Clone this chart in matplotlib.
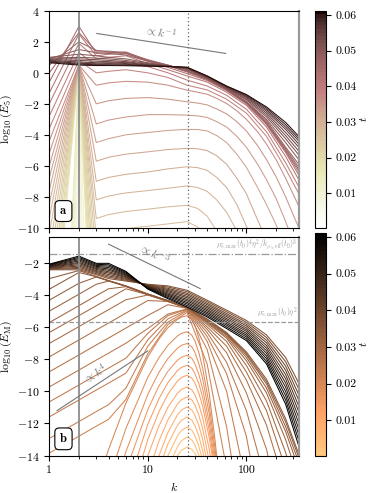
import matplotlib
matplotlib.use("Agg")
from matplotlib import pyplot as plt
from matplotlib import colors, cm, ticker

plt.rcParams["font.family"] = "serif"
plt.rcParams["font.serif"] = ["cmr10"]
plt.rcParams["mathtext.fontset"] = "cm"
plt.rcParams["axes.formatter.use_mathtext"] = True
plt.rcParams["font.size"] = 8.5

# ---------------- panel a : log10(E_5) ----------------
k_e5 = [1, 2, 3, 4, 6, 10, 16, 25, 40, 63, 100, 160, 250, 340]

# earliest spectra: only the spike at k = 2 is visible
t_e5_early = [0.001, 0.003, 0.005, 0.007, 0.009, 0.011, 0.013, 0.015]
e5_early = [
    [-400, 0.5, -400],
    [-260, 0.5, -260],
    [-170, 0.5, -160],
    [-115, 0.5, -95],
    [-80, 0.5, -58],
    [-62, 0.5, -36],
    [-50, 0.5, -24],
    [-43, 0.5, -17],
]

k_e5_mid = [1, 2, 3, 4, 6, 10, 16, 25, 32, 40, 50, 63, 80, 100, 130, 160, 200, 250, 340]
t_e5_mid = [0.017, 0.0183, 0.0196, 0.0209, 0.0222, 0.0235, 0.0248, 0.0261,
            0.0274, 0.0287, 0.03, 0.0313, 0.0326, 0.0339, 0.0352, 0.0365]
e5_mid = [
    [-21.0, 0.5, -24.0, -23.8, -23.6, -23.4, -23.3, -23.2, -23.5, -24.0, -25.0, -26.0, -28.0, -30.0, -33.0, -35.0, -38.0, -40.0, -45.0],
    [-19.5, 0.5, -21.5, -21.3, -21.1, -20.9, -20.8, -20.7, -21.0, -21.5, -22.5, -23.5, -25.0, -27.0, -30.0, -32.0, -35.0, -37.0, -42.0],
    [-18.0, 0.5, -19.2, -19.0, -18.8, -18.6, -18.5, -18.4, -18.7, -19.2, -20.0, -21.0, -22.7, -24.5, -27.0, -29.0, -32.0, -34.0, -39.0],
    [-16.6, 0.5, -17.0, -16.8, -16.6, -16.4, -16.3, -16.2, -16.5, -16.9, -17.7, -18.6, -20.2, -22.0, -24.5, -26.5, -29.0, -31.0, -36.0],
    [-15.2, 0.5, -15.0, -14.8, -14.6, -14.4, -14.3, -14.2, -14.4, -14.8, -15.5, -16.4, -17.8, -19.5, -22.0, -24.0, -26.5, -29.0, -33.0],
    [-13.9, 0.5, -13.3, -13.1, -12.9, -12.7, -12.6, -12.5, -12.7, -13.0, -13.7, -14.5, -15.8, -17.5, -20.0, -22.0, -24.5, -26.5, -30.0],
    [-12.7, 0.5, -11.8, -11.6, -11.4, -11.2, -11.05, -10.95, -11.1, -11.4, -12.0, -12.8, -14.0, -15.6, -18.0, -19.8, -22.0, -24.0, -28.0],
    [-11.5, 0.5, -10.5, -10.25, -10.05, -9.9, -9.75, -9.6, -9.95, -10.5, -11.2, -12.0, -13.0, -14.3, -16.2, -18.0, -20.0, -22.0, -26.0],
    [-10.4, 0.5, -9.4, -9.15, -8.95, -8.8, -8.65, -8.55, -8.75, -9.25, -10.2, -11.3, -12.5, -13.5, -15.3, -16.5, -18.5, -20.5, -24.0],
    [-9.4, 0.5, -8.2, -7.95, -7.75, -7.6, -7.45, -7.3, -7.4, -7.65, -8.2, -9.0, -10.2, -11.5, -13.2, -14.5, -16.5, -18.5, -22.0],
    [-8.5, 0.5, -7.0, -6.75, -6.55, -6.4, -6.2, -6.06, -6.12, -6.3, -6.75, -7.4, -8.5, -9.9, -11.4, -12.8, -14.5, -16.5, -20.0],
    [-7.6, 0.5, -5.7, -5.45, -5.25, -5.1, -4.95, -4.88, -4.9, -5.02, -5.35, -5.9, -6.8, -7.8, -9.5, -10.8, -12.4, -14.0, -17.0],
    [-6.8, 0.5, -4.5, -4.25, -4.0, -3.85, -3.72, -3.65, -3.66, -3.75, -4.05, -4.5, -5.25, -6.1, -7.4, -8.5, -9.8, -11.4, -14.0],
    [-6.0, 0.5, -3.3, -3.05, -2.85, -2.7, -2.7, -2.73, -2.78, -2.88, -3.15, -3.5, -4.1, -4.8, -5.9, -6.9, -8.1, -9.6, -11.8],
    [-5.2, 0.5, -2.0, -1.8, -1.65, -1.6, -1.7, -1.87, -1.95, -2.07, -2.33, -2.65, -3.15, -3.75, -4.7, -5.6, -6.7, -8.0, -10.0],
    [-4.4, 0.5, -0.8, -0.65, -0.55, -0.6, -0.8, -1.12, -1.25, -1.38, -1.65, -1.98, -2.45, -3.0, -3.8, -4.6, -5.6, -6.8, -8.6],
]

t_e5_peak = [0.038, 0.0395, 0.041, 0.0425, 0.044, 0.0455, 0.047, 0.0485]
e5_peak = [
    [-3.6, 0.8, 0.0, 0.1, 0.2, 0.0, -0.3, -0.8, -1.1, -1.7, -2.6, -4.1, -6.2, -7.8],
    [-2.8, 1.3, 0.5, 0.6, 0.7, 0.4, 0.0, -0.47, -0.85, -1.45, -2.35, -3.8, -5.8, -7.35],
    [-2.0, 1.9, 0.9, 1.0, 1.1, 0.6, 0.2, -0.2, -0.6, -1.25, -2.1, -3.5, -5.4, -6.9],
    [-1.3, 2.5, 1.1, 1.2, 1.25, 0.75, 0.35, -0.05, -0.5, -1.15, -2.0, -3.35, -5.15, -6.6],
    [-0.6, 3.0, 1.25, 1.3, 1.35, 0.8, 0.45, 0.05, -0.45, -1.12, -1.97, -3.3, -5.05, -6.4],
    [0.0, 2.6, 1.4, 1.4, 1.3, 0.85, 0.5, 0.1, -0.42, -1.1, -1.94, -3.25, -5.0, -6.25],
    [0.5, 2.0, 1.45, 1.35, 1.25, 0.8, 0.5, 0.12, -0.4, -1.08, -1.92, -3.2, -4.9, -6.1],
    [0.9, 1.5, 1.3, 1.25, 1.15, 0.75, 0.45, 0.13, -0.38, -1.06, -1.9, -3.1, -4.8, -5.9],
]

t_e5_late = [0.05, 0.0515, 0.053, 0.0545, 0.056, 0.0575, 0.059, 0.0605]
e5_late = [
    [1.0, 1.2, 1.1, 1.0, 0.9, 0.65, 0.45, 0.2, -0.35, -1.05, -1.85, -3.0, -4.5, -5.6],
    [0.95, 1.0, 0.95, 0.9, 0.8, 0.6, 0.45, 0.25, -0.32, -1.0, -1.75, -2.85, -4.25, -5.3],
    [0.9, 0.9, 0.85, 0.8, 0.72, 0.56, 0.45, 0.28, -0.3, -0.97, -1.68, -2.72, -4.05, -5.05],
    [0.85, 0.8, 0.75, 0.72, 0.66, 0.52, 0.44, 0.3, -0.27, -0.94, -1.6, -2.6, -3.85, -4.8],
    [0.8, 0.7, 0.65, 0.65, 0.6, 0.5, 0.43, 0.32, -0.25, -0.91, -1.54, -2.48, -3.65, -4.6],
    [0.75, 0.62, 0.58, 0.58, 0.55, 0.47, 0.42, 0.34, -0.23, -0.89, -1.48, -2.38, -3.5, -4.4],
    [0.7, 0.56, 0.52, 0.52, 0.5, 0.45, 0.41, 0.35, -0.21, -0.87, -1.43, -2.28, -3.35, -4.25],
    [0.65, 0.5, 0.47, 0.47, 0.46, 0.43, 0.4, 0.36, -0.2, -0.85, -1.4, -2.2, -3.2, -4.1],
]

# ---------------- panel b : log10(E_M) ----------------
k_em_peak = [3, 4, 6, 10, 13, 16, 20, 22, 25, 28, 30, 33, 36, 42, 48, 52, 56]
t_em_peak = [0.002, 0.0035, 0.005, 0.0065, 0.008, 0.0095, 0.011,
             0.0125, 0.014, 0.0155, 0.017, 0.0185, 0.02]
em_peak = [
    [-30, -28, -25, -20, -16.8, -15.2, -14.0, -13.67, -13.46, -13.61, -13.85, -14.37, -15.0, -16.6, -20, -24, -28],
    [-32, -29, -25, -19.4, -16.56, -14.79, -13.44, -13.07, -12.84, -13.03, -13.33, -13.99, -14.82, -16.8, -20, -24, -28],
    [-31, -28, -24, -18.3, -15.62, -14.0, -12.77, -12.43, -12.22, -12.42, -12.74, -13.43, -14.3, -16.4, -18.9, -22, -26],
    [-30, -27, -23, -17.27, -14.8, -13.27, -12.11, -11.8, -11.6, -11.8, -12.12, -12.81, -13.67, -15.8, -18.25, -21, -25],
    [-29, -26, -22.4, -16.34, -14.0, -12.55, -11.46, -11.16, -10.97, -11.17, -11.48, -12.15, -13.0, -15.1, -17.5, -19.2, -23],
    [-28, -25, -20.65, -15.19, -13.08, -11.78, -10.79, -10.52, -10.35, -10.54, -10.84, -11.5, -12.32, -14.35, -16.7, -18.3, -22],
    [-27, -23.6, -18.8, -14.0, -12.14, -10.99, -10.12, -9.88, -9.73, -9.92, -10.21, -10.84, -11.64, -13.61, -15.9, -17.5, -21],
    [-25, -22, -17.5, -13.0, -11.26, -10.18, -9.36, -9.14, -9.0, -9.19, -9.48, -10.12, -10.92, -12.89, -15.16, -16.8, -20],
    [-24, -20.4, -16.2, -12.05, -10.45, -9.46, -8.71, -8.51, -8.38, -8.57, -8.88, -9.54, -10.38, -12.43, -14.8, -16.5, -20],
    [-21.8, -18.7, -14.92, -11.13, -9.66, -8.75, -8.07, -7.88, -7.76, -7.96, -8.28, -8.97, -9.84, -11.96, -14.42, -16.2, -19.5],
    [-20.1, -17.3, -13.74, -10.19, -8.81, -7.96, -7.32, -7.14, -7.03, -7.24, -7.57, -8.3, -9.2, -11.43, -14.0, -15.8, -19],
    [-18.1, -15.5, -12.3, -9.13, -7.9, -7.14, -6.56, -6.4, -6.3, -6.52, -6.86, -7.61, -8.56, -10.87, -13.53, -15.4, -18.5],
    [-15.9, -13.61, -10.73, -7.87, -6.74, -6.05, -5.53, -5.39, -5.3, -5.53, -5.9, -6.7, -7.7, -10.16, -13.0, -15.0, -18],
]

k_em = [1, 2, 3, 4, 6, 10, 16, 25, 40, 63, 100, 160, 250, 340]
t_em_mid = [0.0215, 0.0225, 0.0235, 0.0245, 0.0255, 0.0265, 0.0275,
            0.0285, 0.0295, 0.0305, 0.0315, 0.0325, 0.0335, 0.0345]
em_mid = [
    [-13.84, -12.79, -12.17, -11.74, -10.5, -7.67, -5.85, -5.1, -8.3, -14.8, -25, -35, -45, -55],
    [-12.93, -11.88, -11.26, -10.83, -9.8, -7.2, -5.7, -5.0, -7.4, -12.2, -20, -30, -40, -50],
    [-11.59, -10.54, -9.92, -9.49, -8.87, -6.8, -5.5, -4.95, -6.9, -10.0, -15.8, -25, -35, -45],
    [-10.66, -9.61, -8.99, -8.56, -7.94, -6.4, -5.3, -4.9, -6.6, -8.9, -12.8, -19.5, -28, -36],
    [-9.73, -8.68, -8.06, -7.63, -7.01, -6.1, -5.2, -4.88, -6.35, -8.2, -11.2, -15.8, -23, -30],
    [-8.79, -7.74, -7.12, -6.69, -6.07, -5.29, -4.62, -4.85, -6.15, -7.6, -10.1, -13.6, -19, -24],
    [-7.86, -6.81, -6.19, -5.76, -5.14, -4.36, -4.42, -4.84, -6.0, -7.2, -9.3, -12.1, -16.0, -20],
    [-7.03, -5.98, -5.36, -4.93, -4.31, -4.02, -4.42, -4.83, -5.85, -6.9, -8.8, -11.2, -14.8, -18],
    [-6.35, -5.3, -4.68, -4.25, -3.63, -4.0, -4.41, -4.82, -5.75, -6.7, -8.4, -10.6, -13.8, -16.5],
    [-5.73, -4.68, -4.06, -3.63, -3.5, -3.99, -4.4, -4.82, -5.7, -6.6, -8.1, -10.1, -13.0, -15.5],
    [-5.02, -3.97, -3.35, -3.15, -3.48, -3.98, -4.39, -4.81, -5.65, -6.5, -7.9, -9.8, -12.5, -14.8],
    [-4.34, -3.29, -2.9, -3.14, -3.47, -3.97, -4.38, -4.8, -5.6, -6.45, -7.75, -9.55, -12.2, -14.4],
    [-3.66, -2.62, -2.88, -3.13, -3.46, -3.96, -4.37, -4.8, -5.55, -6.4, -7.65, -9.4, -11.9, -14.1],
    [-3.0, -2.5, -2.86, -3.12, -3.45, -3.95, -4.36, -4.79, -5.5, -6.35, -7.55, -9.25, -11.7, -13.9],
]

t_em_late = [0.036, 0.0383, 0.0405, 0.0428, 0.045, 0.0473,
             0.0495, 0.0518, 0.054, 0.0563, 0.0585, 0.061]
em_late = [
    [-2.45, -2.45, -2.75, -3.0, -3.15, -3.35, -3.45, -3.72, -4.34, -4.96, -5.6, -6.5, -7.9, -9.5],
    [-2.42, -2.37, -2.69, -2.91, -3.10, -3.38, -3.52, -3.81, -4.43, -5.06, -5.71, -6.66, -8.16, -9.85],
    [-2.39, -2.30, -2.62, -2.83, -3.04, -3.40, -3.60, -3.91, -4.53, -5.17, -5.83, -6.83, -8.43, -10.21],
    [-2.35, -2.22, -2.56, -2.74, -2.99, -3.43, -3.67, -4.0, -4.62, -5.27, -5.94, -6.99, -8.69, -10.56],
    [-2.32, -2.14, -2.50, -2.65, -2.93, -3.46, -3.74, -4.1, -4.72, -5.37, -6.06, -7.16, -8.96, -10.92],
    [-2.29, -2.06, -2.43, -2.57, -2.88, -3.49, -3.81, -4.19, -4.81, -5.48, -6.17, -7.32, -9.22, -11.27],
    [-2.26, -1.99, -2.37, -2.48, -2.82, -3.51, -3.89, -4.29, -4.91, -5.58, -6.28, -7.48, -9.48, -11.63],
    [-2.23, -1.91, -2.30, -2.40, -2.77, -3.54, -3.96, -4.38, -5.0, -5.69, -6.4, -7.64, -9.74, -11.98],
    [-2.20, -1.83, -2.24, -2.31, -2.71, -3.57, -4.03, -4.48, -5.10, -5.79, -6.51, -7.81, -10.01, -12.34],
    [-2.16, -1.75, -2.18, -2.22, -2.66, -3.60, -4.10, -4.57, -5.19, -5.89, -6.62, -7.97, -10.27, -12.69],
    [-2.13, -1.68, -2.11, -2.14, -2.60, -3.62, -4.18, -4.67, -5.29, -6.0, -6.74, -8.14, -10.54, -13.05],
    [-2.10, -1.60, -2.05, -2.05, -2.55, -3.65, -4.25, -4.76, -5.38, -6.10, -6.85, -8.30, -10.80, -13.40],
]

# reference lines
k_forcing = 2
k_inst = 25.6
slope_m1_k = [3.04, 61.7]
slope_m1_y = [2.54, 1.25]
slope_m3_k = [4.0, 34.0]
slope_m3_y = [-0.86, -3.62]
slope_p4_k = [1.2, 10.0]
slope_p4_y = [-11.2, -7.49]
level_sat = -1.48
level_mu = -5.69

t_min, t_max = 0.0003, 0.0612


def draw_family(ax, k, rows, times, cmap, norm):
    for row, t in zip(rows, times):
        ax.plot(k[:len(row)], row, color=cmap(norm(t)), lw=0.75)


def style_axis(ax, ylim, yticks):
    ax.set_xscale("log")
    ax.set_xlim(1, 340)
    ax.set_ylim(*ylim)
    ax.set_yticks(yticks)
    ax.axvline(k_forcing, color="#8c8c8c", lw=1.3)
    ax.axvline(k_inst, color="#666666", lw=0.9, ls=(0, (1, 2)))
    ax.spines["right"].set_color("#9a9a9a")
    ax.spines["right"].set_linewidth(1.6)
    ax.yaxis.set_label_coords(-0.14, 0.5)


def panel_label(ax, s):
    ax.text(0.057, 0.077, s, transform=ax.transAxes, ha="center", va="center",
            fontsize=9, bbox=dict(boxstyle="round,pad=0.35", fc="white", ec="black", lw=0.8))


def add_colorbar(fig, rect, cmap_name, norm):
    cax = fig.add_axes(rect)
    sm = cm.ScalarMappable(norm=norm, cmap=plt.get_cmap(cmap_name, 60))
    cb = fig.colorbar(sm, cax=cax)
    cb.set_ticks([0.01, 0.02, 0.03, 0.04, 0.05, 0.06])
    cb.ax.yaxis.set_major_formatter(ticker.FormatStrFormatter("%.2f"))
    cb.set_label(r"$t$", labelpad=1)
    cb.outline.set_linewidth(0.8)
    return cb


fig = plt.figure(figsize=(3.73, 4.93), dpi=100)
ax1 = fig.add_axes([0.132, 0.538, 0.669, 0.440])
ax2 = fig.add_axes([0.132, 0.0757, 0.669, 0.444])
norm = colors.Normalize(vmin=t_min, vmax=t_max)

# panel a
cmap_a = plt.get_cmap("pink_r")
draw_family(ax1, k_e5, e5_early, t_e5_early, cmap_a, norm)
draw_family(ax1, k_e5_mid, e5_mid, t_e5_mid, cmap_a, norm)
draw_family(ax1, k_e5, e5_peak, t_e5_peak, cmap_a, norm)
draw_family(ax1, k_e5, e5_late, t_e5_late, cmap_a, norm)
style_axis(ax1, (-10, 4), [-10, -8, -6, -4, -2, 0, 2, 4])
ax1.plot(slope_m1_k, slope_m1_y, color="#777777", lw=0.8)
ax1.text(13.4, 2.62, r"$\propto k^{-1}$", color="#777777", fontsize=8.5,
         rotation=-8.8, ha="center", va="center")
ax1.set_ylabel(r"$\log_{10}(E_5)$")
ax1.tick_params(axis="x", which="both", labelbottom=False)
panel_label(ax1, r"$\mathbf{a}$")

# panel b
cmap_b = plt.get_cmap("copper_r")
draw_family(ax2, k_em_peak, em_peak, t_em_peak, cmap_b, norm)
draw_family(ax2, k_em, em_mid, t_em_mid, cmap_b, norm)
draw_family(ax2, k_em, em_late, t_em_late, cmap_b, norm)
style_axis(ax2, (-14, -0.4), [-14, -12, -10, -8, -6, -4, -2])
ax2.axhline(level_sat, color="#999999", lw=0.9, ls="-.")
ax2.axhline(level_mu, color="#999999", lw=0.9, ls="--")
ax2.text(0.995, level_sat + 0.12, r"$\mu_{5,\mathrm{max}}(t_0)^4\eta^2/k_{\mu_5,\mathrm{eff}}(t_0)^3$",
         transform=ax2.get_yaxis_transform(), color="#999999", fontsize=5.5, ha="right", va="bottom")
ax2.text(0.995, level_mu + 0.12, r"$\mu_{5,\mathrm{max}}(t_0)\eta^2$",
         transform=ax2.get_yaxis_transform(), color="#999999", fontsize=5.5, ha="right", va="bottom")
ax2.plot(slope_m3_k, slope_m3_y, color="#777777", lw=0.8)
ax2.text(11.5, -1.45, r"$\propto k^{-3}$", color="#777777", fontsize=8.5,
         rotation=-25.8, ha="center", va="center")
ax2.plot(slope_p4_k, slope_p4_y, color="#777777", lw=0.8)
ax2.text(2.92, -8.9, r"$\propto k^{4}$", color="#777777", fontsize=8.5,
         rotation=33.4, ha="center", va="center")
ax2.set_ylabel(r"$\log_{10}(E_{\rm M})$")
ax2.set_xlabel(r"$k$")
ax2.xaxis.set_major_locator(ticker.FixedLocator([1, 10, 100]))
ax2.xaxis.set_major_formatter(ticker.FixedFormatter(["1", "10", "100"]))
panel_label(ax2, r"$\mathbf{b}$")

add_colorbar(fig, [0.8445, 0.538, 0.0287, 0.440], "pink_r", norm)
add_colorbar(fig, [0.8445, 0.0757, 0.0287, 0.4525], "copper_r", norm)

fig.savefig("out.png", dpi=100)
